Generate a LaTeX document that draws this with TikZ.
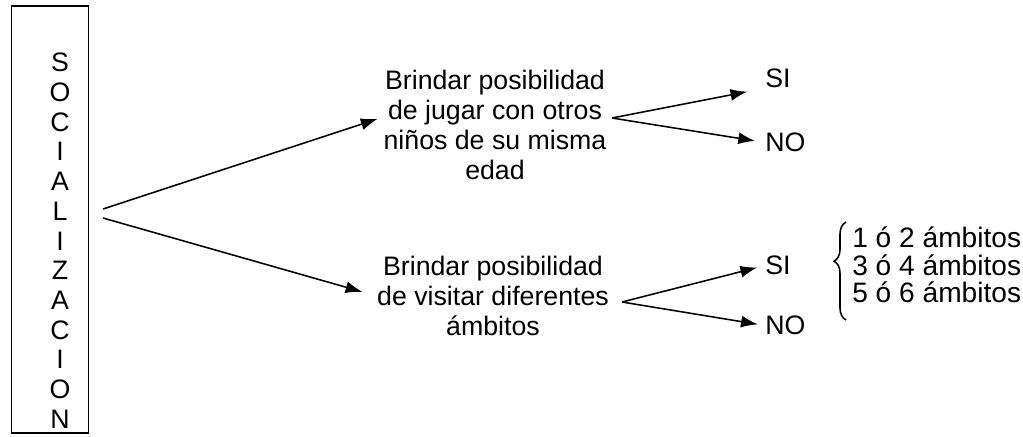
\documentclass[tikz,border=0pt]{standalone}
\usepackage{fontspec}
\setmainfont{Liberation Sans}
\usetikzlibrary{arrows.meta, decorations.pathreplacing}

\begin{document}
\begin{tikzpicture}[x=0.025cm, y=-0.025cm]
    \useasboundingbox (0,0) rectangle (1023,436);

    % Define styles for the different parts
    \tikzstyle{frame} = [draw, line width=1.3pt, inner xsep=0.3625cm, inner ysep=0.125cm, anchor=north]
    \tikzstyle{question} = [align=center, inner sep=0pt, font=\fontsize{19}{21.5}\selectfont]
    \tikzstyle{answer} = [anchor=west, inner sep=0pt, font=\fontsize{19}{21.5}\selectfont]
    \tikzstyle{branch} = [-{Latex[length=0.42cm, width=0.3cm]}, line width=1.1pt, black]

    \node (soc) [frame] at (50,5) {\parbox[c][10.425cm][b]{1.2cm}{\centering\leftskip=0.5cm plus 1fil\fontsize{19}{21.1}\selectfont S\\O\\C\\I\\A\\L\\I\\Z\\A\\C\\I\\O\\N}};
    \node (jugar) [question] at (495,125) {Brindar posibilidad\\de jugar con otros\\niños de su misma\\edad};
    \node (visitar) [question] at (493,296) {Brindar posibilidad\\de visitar diferentes\\ámbitos};
    \node (si1) [answer] at (765,78.5) {SI};
    \node (no1) [answer] at (765,142.5) {NO};
    \node (si2) [answer] at (765,265.5) {SI};
    \node (no2) [answer] at (765,325.5) {NO};
    \node (amb) [answer, align=left, font=\fontsize{20}{19.5}\selectfont] at (852,265) {1 ó 2 ámbitos\\3 ó 4 ámbitos\\5 ó 6 ámbitos};

    \coordinate (out1) at (103,209);
    \coordinate (out2) at (103,218);
    \coordinate (fork1) at (612,118);
    \coordinate (fork2) at (622,302);

    \draw[branch, shorten >=0.15cm] (out1) -- ([yshift=0.2cm]jugar.west);
    \draw[branch, shorten >=0.375cm] (out2) -- (visitar.west);
    \draw[branch, shorten >=0.45cm] (fork1) -- (si1.south west);
    \draw[branch, shorten >=0.25cm] (fork1) -- (no1.west);
    \draw[branch, shorten >=0.2cm] (fork2) -- (si2.west);
    \draw[branch, shorten >=0.18cm] (fork2) -- (no2.west);

    \draw[line width=1.1pt, decorate, decoration={brace, amplitude=0.3cm, aspect=0.6}] (846,320) -- (846,222);

\end{tikzpicture}
\end{document}
